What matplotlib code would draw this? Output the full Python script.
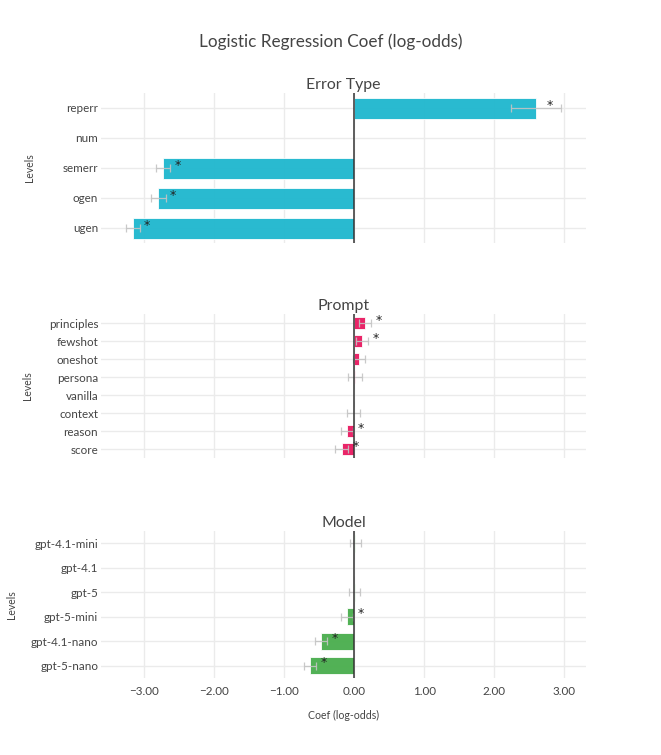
import numpy as np
import matplotlib
matplotlib.use("Agg")
import matplotlib.pyplot as plt
from matplotlib.ticker import FuncFormatter

plt.rcParams['font.family'] = ['Lato', 'DejaVu Sans']

# --- data ---
err_levels = ["reperr", "num", "semerr", "ogen", "ugen"]
err_coef = [2.60, 0.0, -2.72, -2.79, -3.16]
err_lo = [2.24, 0.0, -2.83, -2.90, -3.26]
err_hi = [2.96, 0.0, -2.62, -2.68, -3.06]
err_sig = [True, False, True, True, True]

prompt_levels = ["principles", "fewshot", "oneshot", "persona", "vanilla", "context", "reason", "score"]
prompt_coef = [0.157, 0.114, 0.067, 0.015, 0.0, 0.0, -0.10, -0.176]
prompt_lo = [0.076, 0.03, -0.02, -0.08, 0.0, -0.095, -0.19, -0.276]
prompt_hi = [0.243, 0.205, 0.16, 0.11, 0.0, 0.09, -0.01, -0.086]
prompt_sig = [True, True, False, False, False, False, True, True]

model_levels = ["gpt-4.1-mini", "gpt-4.1", "gpt-5", "gpt-5-mini", "gpt-4.1-nano", "gpt-5-nano"]
model_coef = [0.02, 0.0, 0.01, -0.10, -0.47, -0.63]
model_lo = [-0.06, 0.0, -0.07, -0.18, -0.55, -0.71]
model_hi = [0.10, 0.0, 0.085, -0.02, -0.39, -0.54]
model_sig = [False, False, False, True, True, True]

# reference levels have no CI drawn
ref_levels = ["num", "vanilla", "gpt-4.1"]

panels = [
    ("Error Type", err_levels, err_coef, err_lo, err_hi, err_sig, "#22b8cf"),
    ("Prompt", prompt_levels, prompt_coef, prompt_lo, prompt_hi, prompt_sig, "#e91e63"),
    ("Model", model_levels, model_coef, model_lo, model_hi, model_sig, "#4caf50"),
]

# --- layout in pixels (661 x 755) ---
W, H = 661, 755
LEFT, RIGHT = 101, 586
PANEL_Y = [(93, 243), (314, 458), (531, 678)]
YLABEL_X = [30, 27, 12]
TXT = "#444444"
GRID = "#ebebeb"
XLIM = (-3.61, 3.31)
STAR_OFF = 0.2

fig = plt.figure(figsize=(W / 100, H / 100), dpi=100)
fig.text(0.5, 1 - 42 / H, "Logistic Regression Coef (log-odds)", ha="center", va="center",
         fontsize=12.3, color=TXT)

for i, (title, levels, coef, lo, hi, sig, color) in enumerate(panels):
    top, bot = PANEL_Y[i]
    ax = fig.add_axes([LEFT / W, 1 - bot / H, (RIGHT - LEFT) / W, (bot - top) / H])
    y = np.arange(len(levels))
    coef = np.array(coef)
    lo = np.array(lo)
    hi = np.array(hi)

    ax.barh(y, coef, height=0.7, color=color, edgecolor="#ffffff", linewidth=0.6,
            alpha=0.97, zorder=2)
    show = np.array([lv not in ref_levels for lv in levels])
    ax.errorbar(coef[show], y[show], xerr=[coef[show] - lo[show], hi[show] - coef[show]],
                fmt="none", ecolor="#c4c4c4", elinewidth=0.9, capsize=3, capthick=0.9,
                alpha=0.9, zorder=3)
    for yy, c, s in zip(y, coef, sig):
        if s:
            ax.annotate("*", (c + STAR_OFF, yy), xytext=(0, 2), textcoords="offset points",
                        ha="center", va="center", fontsize=9, family="DejaVu Sans",
                        color="#222222", zorder=4)

    ax.axvline(0, color="#333333", linewidth=1.1, zorder=3)
    ax.set_xlim(*XLIM)
    ax.set_ylim(len(levels) - 0.5, -0.5)
    ax.set_yticks(y)
    ax.set_yticklabels(levels)
    ax.set_xticks([-3, -2, -1, 0, 1, 2, 3])
    ax.xaxis.set_major_formatter(FuncFormatter(lambda v, p: f"{v:.2f}".replace("-", "\u2212")))
    ax.grid(True, color=GRID, linewidth=1, zorder=0)
    ax.set_axisbelow(True)
    for sp in ax.spines.values():
        sp.set_visible(False)
    ax.tick_params(length=0, colors=TXT, labelsize=8.4, pad=2)
    ax.tick_params(axis="x", pad=6)
    if i < 2:
        ax.tick_params(labelbottom=False)
    else:
        ax.set_xlabel("Coef (log-odds)", fontsize=7.6, color=TXT, labelpad=9)
    ax.set_ylabel("Levels", fontsize=7.6, color=TXT, va="center")
    ax.yaxis.set_label_coords((YLABEL_X[i] - LEFT) / (RIGHT - LEFT), 0.5)
    ax.set_title(title, fontsize=11.4, color=TXT, pad=3)

fig.savefig("out.png", dpi=100, facecolor="white")
